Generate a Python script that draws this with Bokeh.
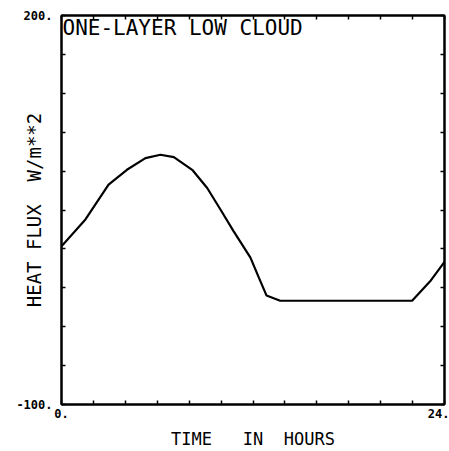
from bokeh.plotting import figure
from bokeh.models import Range1d, FixedTicker, LinearAxis, Label
from bokeh.embed import file_html
from bokeh.resources import INLINE

# data
hours = [0.0, 1.5, 2.95, 4.1, 5.26, 6.2, 7.04, 8.19, 9.13, 9.96, 10.78, 11.84, 12.36, 12.85, 13.7, 21.97, 23.1, 24.0]
heat_flux = [22.0, 42.7, 69.6, 81.0, 90.0, 92.6, 90.8, 81.0, 67.0, 50.4, 33.7, 13.3, -2.0, -16.0, -20.0, -20.0, -5.0, 10.0]

x_ticks = [0, 2, 4, 6, 8, 10, 12, 14, 16, 18, 20, 22, 24]
y_ticks = [-100, -70, -40, -10, 20, 50, 80, 110, 140, 170, 200]
x_tick_labels = {0: "0.", 24: "24."}
y_tick_labels = {-100: "-100.", 200: "200."}
title_text = "ONE-LAYER LOW CLOUD"
x_title = "TIME\u00a0\u00a0\u00a0IN\u00a0\u00a0HOURS"
y_title = "HEAT FLUX\u00a0\u00a0W/m**2"

FONT = "DejaVu Sans Mono"

p = figure(width=449, height=451, x_range=Range1d(0, 24), y_range=Range1d(-100, 200),
           output_backend="svg", toolbar_location=None,
           x_axis_location=None, y_axis_location=None,
           min_border_left=61, min_border_right=5, min_border_top=15, min_border_bottom=45)
p.xgrid.visible = False
p.ygrid.visible = False
p.outline_line_color = "black"
p.outline_line_width = 2
p.background_fill_color = "white"
p.border_fill_color = "white"

def style(ax, ticks, overrides):
    ax.ticker = FixedTicker(ticks=ticks)
    ax.major_label_overrides = {t: overrides.get(t, "") for t in ticks}
    ax.axis_line_color = "black"
    ax.axis_line_width = 2
    ax.major_tick_in = 4
    ax.major_tick_out = 0
    ax.major_tick_line_width = 1.5
    ax.minor_tick_line_color = None
    ax.major_label_text_font = FONT
    ax.major_label_text_font_style = "bold"
    ax.major_label_text_font_size = "12px"
    ax.major_label_text_color = "black"

bottom = LinearAxis()
style(bottom, x_ticks, x_tick_labels)
bottom.major_label_standoff = 4
bottom.axis_label = x_title
bottom.axis_label_text_font = FONT
bottom.axis_label_text_font_style = "normal"
bottom.axis_label_text_font_size = "17px"
bottom.axis_label_text_color = "black"
bottom.axis_label_standoff = 8
p.add_layout(bottom, "below")

left = LinearAxis()
style(left, y_ticks, y_tick_labels)
left.major_label_standoff = 9
left.axis_label = y_title
left.axis_label_text_font = FONT
left.axis_label_text_font_style = "normal"
left.axis_label_text_font_size = "19px"
left.axis_label_text_color = "black"
left.axis_label_standoff = -32
p.add_layout(left, "left")

top = LinearAxis()
style(top, x_ticks, {})
top.major_label_text_font_size = "0px"
top.major_label_standoff = 0
p.add_layout(top, "above")

right = LinearAxis()
style(right, y_ticks, {})
right.major_label_text_font_size = "0px"
right.major_label_standoff = 0
p.add_layout(right, "right")

p.line(hours, heat_flux, line_color="black", line_width=2.2)

p.add_layout(Label(x=0, y=200, text=title_text, text_font=FONT, text_font_size="21px",
                   text_baseline="top", x_offset=1, y_offset=0, text_color="black"))

open("out.html", "w").write(file_html(p, INLINE))
